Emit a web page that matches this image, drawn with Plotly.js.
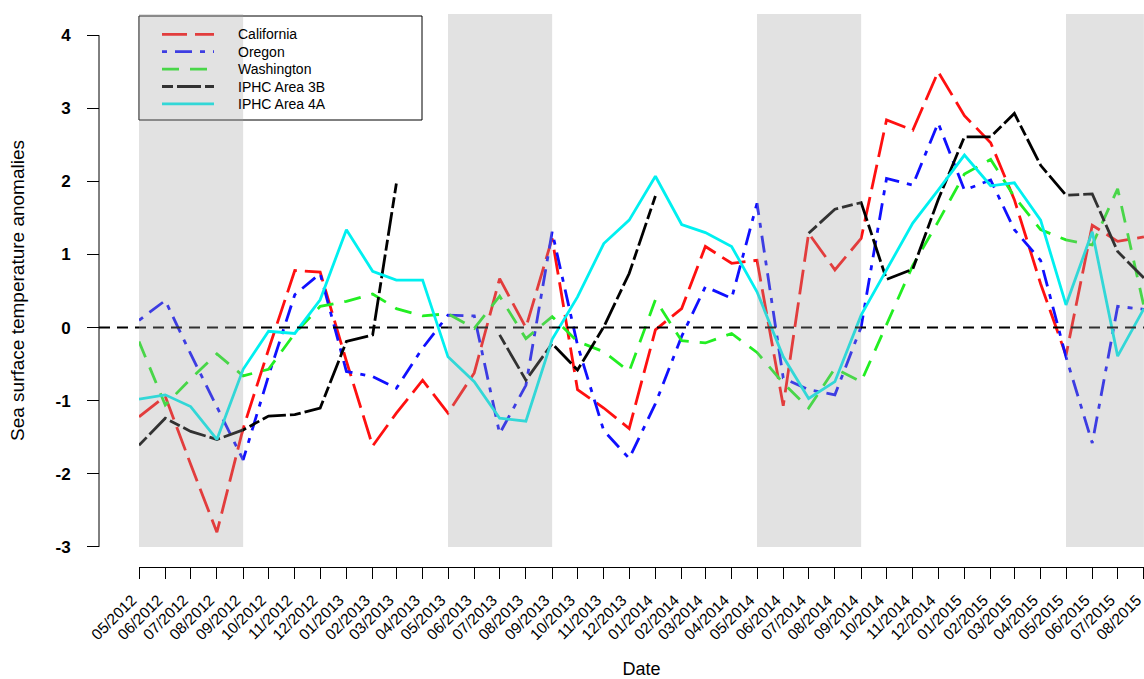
<!DOCTYPE html>
<html>
<head>
<meta charset="utf-8">
<script src="https://cdn.plot.ly/plotly-3.0.1.min.js"></script>
<style>html,body{margin:0;padding:0;background:#fff;}#chart{width:1144px;height:679px;}</style>
</head>
<body>
<div id="chart"></div>
<script>
// ---------- data ----------
const monthLabels = ['05/2012','06/2012','07/2012','08/2012','09/2012','10/2012','11/2012','12/2012',
  '01/2013','02/2013','03/2013','04/2013','05/2013','06/2013','07/2013','08/2013','09/2013','10/2013','11/2013','12/2013',
  '01/2014','02/2014','03/2014','04/2014','05/2014','06/2014','07/2014','08/2014','09/2014','10/2014','11/2014','12/2014',
  '01/2015','02/2015','03/2015','04/2015','05/2015','06/2015','07/2015','08/2015'];

const california = [-1.22,-0.94,-1.87,-2.80,-1.38,-0.30,0.78,0.76,-0.46,-1.62,-1.17,-0.72,-1.17,-0.62,0.67,0.00,1.22,-0.85,-1.10,-1.38,
  -0.03,0.26,1.11,0.88,0.92,-1.07,1.29,0.79,1.22,2.84,2.70,3.50,2.90,2.53,1.75,0.60,-0.38,1.40,1.18,1.24];
const oregon = [0.10,0.37,-0.36,-1.08,-1.81,-0.66,0.45,0.74,-0.60,-0.67,-0.83,-0.28,0.17,0.16,-1.45,-0.79,1.31,-0.24,-1.41,-1.79,
  -1.04,-0.12,0.56,0.40,1.70,-0.69,-0.85,-0.92,0.01,2.04,1.95,2.80,1.88,2.02,1.34,0.92,-0.40,-1.58,0.29,0.25];
const washington = [-0.19,-1.06,-0.70,-0.36,-0.66,-0.57,-0.08,0.29,0.36,0.46,0.26,0.16,0.19,-0.01,0.43,-0.15,0.15,-0.19,-0.33,-0.60,
  0.38,-0.18,-0.21,-0.08,-0.34,-0.76,-1.10,-0.56,-0.74,0.03,0.85,1.45,2.10,2.30,1.79,1.34,1.20,1.13,1.90,0.29];
const iphc3B = [-1.61,-1.24,-1.42,-1.53,-1.40,-1.21,-1.19,-1.10,-0.19,-0.10,1.97,null,null,null,-0.10,-0.72,-0.22,-0.58,0.01,0.74,
  1.80,null,null,null,null,null,1.29,1.62,1.71,0.66,0.80,1.75,2.61,2.61,2.93,2.22,1.81,1.83,1.04,0.68];
const iphc4A = [-0.98,-0.92,-1.08,-1.53,-0.57,-0.05,-0.08,0.38,1.34,0.77,0.65,0.65,-0.40,-0.74,-1.24,-1.28,-0.16,0.42,1.15,1.47,
  2.07,1.41,1.30,1.11,0.49,-0.40,-0.97,-0.74,0.17,0.78,1.43,1.88,2.36,1.94,1.98,1.47,0.31,1.31,-0.39,0.26];

const seriesNames = ['California','Oregon','Washington','IPHC Area 3B','IPHC Area 4A'];
const seriesColors = ['#ff1010','#1010ff','#22ee22','#000000','#00f0f0'];
const seriesDash = ['25px,8px','5px,8px,17px,8px','17px,11px','11px,4px,24px,4px','solid'];

const yTickVals = [-3,-2,-1,0,1,2,3,4];
const yTickText = ['-3','-2','-1','0','1','2','3','4'];

const bandStart = ['05/2012','05/2013','05/2014','05/2015'];
const bandEnd   = ['09/2012','09/2013','09/2014','08/2015'];

// ---------- helpers ----------
const toDate = s => s.slice(3) + '-' + s.slice(0,2) + '-01';
const dates = monthLabels.map(toDate);
const allSeries = [california, oregon, washington, iphc3B, iphc4A];

const W = 1144, H = 679;
const mL = 99, mR = 0, mT = 14, mB = 112;
const plotW = W - mL - mR, plotH = H - mT - mB;
const px2paperX = px => (px - mL) / plotW;
const px2paperY = py => (H - mB - py) / plotH;
const yTop = 4.29, yBot = -3.275;

const FONT = 'Liberation Sans, Arial, Helvetica, sans-serif';

const traces = allSeries.map((vals, i) => ({
  type: 'scatter', mode: 'lines', x: dates, y: vals, name: seriesNames[i],
  connectgaps: false, showlegend: false,
  line: {color: seriesColors[i], width: 2.8, dash: seriesDash[i]},
  hoverinfo: 'x+y+name'
}));

const shapes = [];
const annotations = [];

// legend box
shapes.push({type:'rect', xref:'paper', yref:'paper', layer:'above',
  x0: px2paperX(139), x1: px2paperX(422), y0: px2paperY(120), y1: px2paperY(16),
  fillcolor:'#ffffff', line:{color:'#000000', width:1}});
const rowY = [34.3, 51.7, 69.1, 86.5, 103.9];
seriesNames.forEach((nm, i) => {
  shapes.push({type:'line', xref:'paper', yref:'paper', layer:'above',
    x0: px2paperX(162), x1: px2paperX(214), y0: px2paperY(rowY[i]), y1: px2paperY(rowY[i]),
    line:{color: seriesColors[i], width: 2.8, dash: seriesDash[i]}});
  annotations.push({xref:'paper', yref:'paper', x: px2paperX(236), y: px2paperY(rowY[i]),
    xanchor:'left', yanchor:'middle', showarrow:false, text: nm,
    font:{family: FONT, size: 14, color:'#000'}});
});

// y axis line (only from -3 to 4)
shapes.push({type:'line', xref:'paper', yref:'y', layer:'above', x0:0, x1:0, y0:-3, y1:4,
  line:{color:'#000', width:1}});
// zero reference line
shapes.push({type:'line', xref:'paper', yref:'y', layer:'above', x0:0, x1:1, y0:0, y1:0,
  line:{color:'#000', width:2, dash:'11px,7px'}});
// grey seasonal bands (semi-transparent, on top)
bandStart.forEach((s, i) => {
  shapes.push({type:'rect', xref:'x', yref:'y', layer:'above',
    x0: toDate(s), x1: toDate(bandEnd[i]), y0: -3, y1: yTop,
    fillcolor:'rgba(160,160,160,0.31)', line:{width:0}});
});

// tiny pad so the last month tick is kept inside the range
const xEnd = new Date(Date.parse(dates[dates.length - 1] + 'T00:00:00Z') + 3 * 3600 * 1000).toISOString().slice(0, 19).replace('T', ' ');

const layout = {
  width: W, height: H,
  margin: {l: mL, r: mR, t: mT, b: mB, pad: 0},
  paper_bgcolor: '#ffffff', plot_bgcolor: '#ffffff',
  font: {family: FONT, color: '#000'},
  showlegend: false,
  xaxis: {
    type: 'date', domain: [px2paperX(139), 1],
    range: [dates[0], xEnd],
    tickmode: 'array', tickvals: dates, ticktext: monthLabels,
    tickangle: -45, tickfont: {family: FONT, size: 15.5, color: '#000'},
    ticks: 'outside', ticklen: 11, tickwidth: 1, tickcolor: '#000',
    ticklabelstandoff: 6, ticklabelshift: -7, ticklabeloverflow: 'allow',
    showline: true, linecolor: '#000', linewidth: 1,
    showgrid: false, zeroline: false, fixedrange: true,
    title: {text: 'Date', font: {family: FONT, size: 18, color: '#000'}, standoff: 26}
  },
  yaxis: {
    range: [yBot, yTop], anchor: 'free', position: 0,
    tickmode: 'array', tickvals: yTickVals, ticktext: yTickText,
    tickfont: {family: FONT, size: 17, color: '#000', weight: 'bold'},
    ticks: 'outside', ticklen: 12, tickwidth: 1, tickcolor: '#000',
    ticklabelstandoff: 13,
    showline: false, showgrid: false, zeroline: false, fixedrange: true,
    title: {text: 'Sea surface temperature anomalies', font: {family: FONT, size: 19, color: '#000'}, standoff: 24}
  },
  shapes: shapes,
  annotations: annotations
};

Plotly.newPlot('chart', traces, layout, {staticPlot: true, displayModeBar: false});
</script>
</body>
</html>
